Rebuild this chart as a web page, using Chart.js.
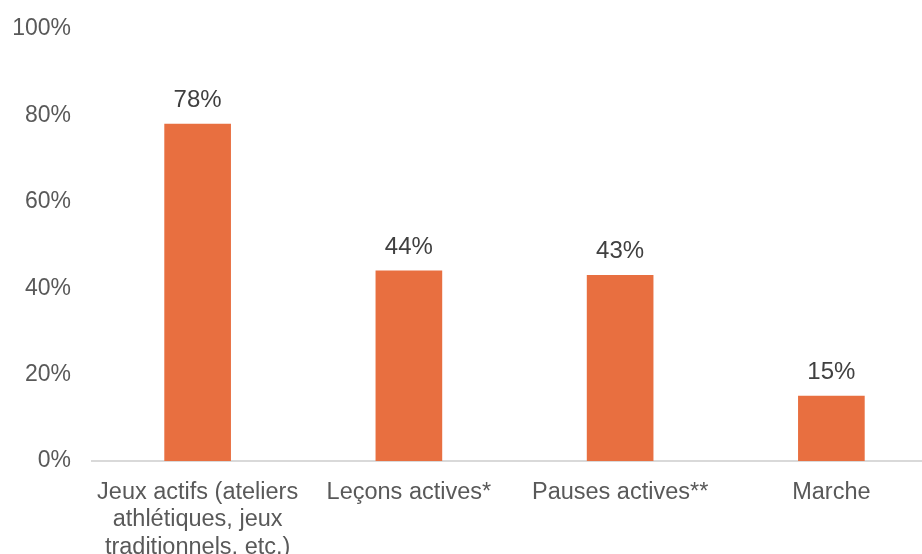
<!DOCTYPE html>
<html>
<head>
<meta charset="utf-8">
<script src="https://cdn.jsdelivr.net/npm/chart.js@4"></script>
<style>
html,body{margin:0;padding:0;background:#fff;overflow:hidden;}
#wrap{position:relative;width:937px;height:554px;}
</style>
</head>
<body>
<div id="wrap"><canvas id="c"></canvas></div>
<script>
const categories = [
  ["Jeux actifs (ateliers", "athlétiques, jeux", "traditionnels, etc.)"],
  "Leçons actives*",
  "Pauses actives**",
  "Marche"
];
const values = [78, 44, 43, 15];
const yTicks = [0, 20, 40, 60, 80, 100];

const FONT = "'Liberation Sans', Arial, sans-serif";

const labelPlugin = {
  id: 'valueLabels',
  afterDatasetsDraw(chart) {
    const ctx = chart.ctx;
    const meta = chart.getDatasetMeta(0);
    ctx.save();
    ctx.font = "24px " + FONT;
    ctx.fillStyle = '#404040';
    ctx.textAlign = 'center';
    ctx.textBaseline = 'alphabetic';
    meta.data.forEach((bar, i) => {
      ctx.fillText(values[i] + '%', bar.x, bar.y - 17);
    });
    ctx.restore();
  }
};

new Chart(document.getElementById('c'), {
  type: 'bar',
  data: {
    labels: categories,
    datasets: [{
      data: values,
      backgroundColor: '#E86F40',
      barThickness: 66
    }]
  },
  options: {
    responsive: true,
    maintainAspectRatio: false,
    animation: false,
    layout: { padding: { top: 29, left: 0, right: 0, bottom: 0 } },
    plugins: { legend: { display: false }, tooltip: { enabled: false } },
    scales: {
      x: {
        grid: { display: false, drawTicks: false },
        border: { display: true, color: '#D9D9D9', width: 2 },
        ticks: {
          color: '#595959',
          font: { family: FONT, size: 23.5, lineHeight: 1.162 },
          padding: 18,
          maxRotation: 0,
          autoSkip: false
        },
        afterFit(s) { s.height = 93; s.paddingLeft = 0; s.paddingRight = 0; }
      },
      y: {
        min: 0,
        max: 100,
        afterBuildTicks(s) { s.ticks = yTicks.map(v => ({ value: v })); },
        grid: { display: false, drawTicks: false },
        border: { display: false },
        ticks: {
          color: '#595959',
          font: { family: FONT, size: 23 },
          padding: 21,
          callback: v => v + '%'
        },
        afterFit(s) { s.width = 92; s.paddingTop = 0; s.paddingBottom = 0; }
      }
    }
  },
  plugins: [labelPlugin]
});
</script>
</body>
</html>
